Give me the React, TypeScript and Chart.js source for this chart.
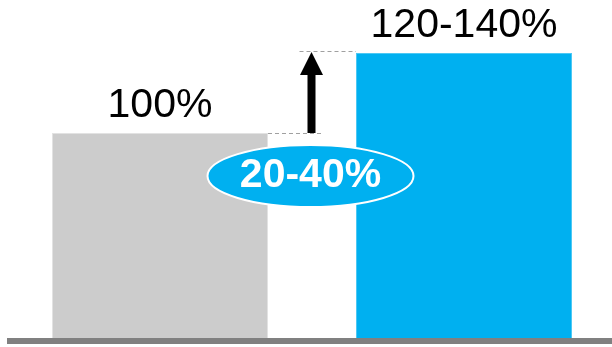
import React, { useEffect, useRef } from "react";
import { Chart, registerables } from "chart.js";

Chart.register(...registerables);

const categories = ["Before", "After"];
const values = [100, 139];
const valueLabels = ["100%", "120-140%"];
const deltaLabel = "20-40%";
const deltaBadgeValue = 79;
const barColors = ["#CCCCCC", "#00B0F0"];
const barEdgeColors = ["#E2E2E2", "#4CC8F4"];

const overlayPlugin = {
  id: "overlay",
  afterDatasetsDraw(chart: any) {
    const { ctx, chartArea, scales } = chart;
    const xs = scales.x;
    const ys = scales.y;
    const meta = chart.getDatasetMeta(0);
    const bars = meta.data.map((b: any) => b.getProps(["x", "y", "width", "base"], true));
    const y0 = ys.getPixelForValue(0);
    ctx.save();

    // baseline
    ctx.fillStyle = "#808080";
    ctx.fillRect(chartArea.left - 1, y0, chart.width, 6);

    // value labels
    ctx.fillStyle = "#000000";
    ctx.font = "41px 'Liberation Sans', Arial, sans-serif";
    ctx.textAlign = "center";
    ctx.textBaseline = "alphabetic";
    bars.forEach((b: any, i: number) => {
      ctx.fillText(valueLabels[i], b.x, b.y - 16);
    });

    // arrow & dashed guides
    const ax = xs.getPixelForValue(0.5) - 0.5;
    const low = bars[0];
    const high = bars[1];
    ctx.strokeStyle = "#A0A0A0";
    ctx.lineWidth = 1;
    ctx.setLineDash([4, 3]);
    ctx.beginPath();
    ctx.moveTo(low.x + low.width / 2, Math.round(low.y) + 0.5);
    ctx.lineTo(ax + 12, Math.round(low.y) + 0.5);
    ctx.moveTo(ax - 12, Math.round(high.y) - 1.5);
    ctx.lineTo(high.x - high.width / 2, Math.round(high.y) - 1.5);
    ctx.stroke();
    ctx.setLineDash([]);

    const tipY = high.y - 1;
    const headBottom = tipY + 23;
    ctx.fillStyle = "#000000";
    ctx.fillRect(ax - 4, headBottom - 1, 8, low.y - headBottom + 1);
    ctx.beginPath();
    ctx.moveTo(ax, tipY);
    ctx.lineTo(ax + 11.5, headBottom);
    ctx.lineTo(ax - 11.5, headBottom);
    ctx.closePath();
    ctx.fill();

    // delta badge
    const cy = ys.getPixelForValue(deltaBadgeValue);
    const cx = ax - 1;
    ctx.beginPath();
    ctx.ellipse(cx, cy, 103, 31, 0, 0, Math.PI * 2);
    ctx.fillStyle = "#00B0F0";
    ctx.fill();
    ctx.strokeStyle = "#FFFFFF";
    ctx.lineWidth = 2;
    ctx.stroke();
    ctx.fillStyle = "#FFFFFF";
    ctx.font = "bold 41px 'Liberation Sans', Arial, sans-serif";
    ctx.fillText(deltaLabel, cx, cy + 11);

    ctx.restore();
  },
};

export default function App() {
  const ref = useRef<HTMLCanvasElement | null>(null);
  useEffect(() => {
    if (!ref.current) return;
    const chart = new Chart(ref.current, {
      type: "bar",
      data: {
        labels: categories,
        datasets: [
          {
            data: values,
            backgroundColor: barColors,
            borderColor: barEdgeColors,
            borderWidth: 1,
            categoryPercentage: 1,
            barPercentage: 0.7105,
          },
        ],
      },
      options: {
        animation: false,
        responsive: false,
        devicePixelRatio: 1,
        layout: { padding: { top: 10, bottom: 9, left: 8, right: 0 } },
        plugins: { legend: { display: false }, tooltip: { enabled: false } },
        scales: {
          x: { display: false },
          y: { display: false, min: 0, max: 160 },
        },
      },
      plugins: [overlayPlugin],
    });
    return () => chart.destroy();
  }, []);
  return (
    <div
      style={{
        position: "fixed",
        left: 0,
        top: 0,
        width: 612,
        height: 347,
        overflow: "hidden",
        background: "#ffffff",
      }}
    >
      <canvas ref={ref} width={616} height={347} style={{ display: "block" }} />
    </div>
  );
}
